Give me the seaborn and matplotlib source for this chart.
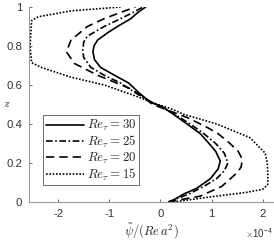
import matplotlib
matplotlib.use("Agg")
import matplotlib.pyplot as plt
import matplotlib.ticker as mticker
import seaborn as sns
import pandas as pd

# stream function profiles, psi given in units of 1e-4
SCALE = 1e-4

z_30 = [0.0, 0.04, 0.07, 0.12, 0.17, 0.21, 0.26, 0.30, 0.35, 0.40, 0.45, 0.49, 0.51,
        0.56, 0.61, 0.65, 0.69, 0.73, 0.77, 0.80, 0.83, 0.87, 0.90, 0.94, 0.97, 1.0]
psi_30 = [0.19, 0.45, 0.71, 0.98, 1.13, 1.17, 1.08, 0.95, 0.78, 0.52, 0.25, 0.03, -0.19,
          -0.42, -0.62, -0.90, -1.17, -1.29, -1.32, -1.30, -1.23, -1.02, -0.84, -0.58, -0.45, -0.29]

z_25 = [0.0, 0.04, 0.08, 0.12, 0.16, 0.20, 0.25, 0.30, 0.35, 0.40, 0.45, 0.49, 0.53,
        0.57, 0.61, 0.65, 0.69, 0.74, 0.78, 0.82, 0.85, 0.90, 0.94, 0.97, 1.0]
psi_25 = [0.15, 0.55, 0.85, 1.10, 1.25, 1.32, 1.25, 1.08, 0.85, 0.58, 0.28, 0.0, -0.30,
          -0.55, -0.78, -1.10, -1.36, -1.50, -1.52, -1.50, -1.43, -1.10, -0.78, -0.55, -0.34]

z_20 = [0.0, 0.03, 0.08, 0.15, 0.18, 0.22, 0.26, 0.30, 0.35, 0.38, 0.43, 0.47, 0.50,
        0.54, 0.58, 0.65, 0.71, 0.77, 0.83, 0.90, 0.94, 0.97, 1.0]
psi_20 = [0.15, 0.78, 1.20, 1.50, 1.58, 1.60, 1.52, 1.36, 1.13, 0.93, 0.55, 0.15, -0.15,
          -0.35, -0.58, -1.23, -1.68, -1.84, -1.75, -1.43, -1.10, -0.80, -0.49]

z_15 = [0.0, 0.03, 0.05, 0.065, 0.09, 0.15, 0.20, 0.25, 0.29, 0.33, 0.40, 0.45, 0.48,
        0.50, 0.54, 0.60, 0.64, 0.69, 0.715, 0.80, 0.93, 0.95, 0.98, 1.0]
psi_15 = [0.25, 1.10, 1.70, 2.00, 2.10, 2.10, 2.09, 2.05, 1.90, 1.75, 1.10, 0.45, 0.19,
          -0.05, -0.45, -1.10, -1.75, -2.33, -2.52, -2.55, -2.52, -2.39, -1.75, -0.78]

labels = [r"$Re_\tau = 30$", r"$Re_\tau = 25$", r"$Re_\tau = 20$", r"$Re_\tau = 15$"]
styles = ["-", (0, (4, 1.5, 1, 1.5)), (0, (5, 3)), (0, (1, 1))]

sns.set_style("ticks")
plt.rcParams["font.family"] = ["Liberation Sans", "DejaVu Sans"]
plt.rcParams["mathtext.fontset"] = "cm"

fig = plt.figure(figsize=(2.74, 2.41), dpi=100)
ax = fig.add_axes([0.106, 0.162, 0.89, 0.809])

profiles = [(z_30, psi_30), (z_25, psi_25), (z_20, psi_20), (z_15, psi_15)]
for (z, psi), lab, ls in zip(profiles, labels, styles):
    df = pd.DataFrame({"psi": [p * SCALE for p in psi], "z": z})
    sns.lineplot(data=df, x="psi", y="z", orient="y", sort=False, estimator=None,
                 color="black", linewidth=1.2, linestyle=ls, label=lab, ax=ax)

ax.set_xlim(-2.57e-4, 2.2e-4)
ax.set_ylim(0, 1)
ax.set_xticks([-2e-4, -1e-4, 0, 1e-4, 2e-4])
ax.set_yticks([0, 0.2, 0.4, 0.6, 0.8, 1])
ax.set_yticklabels(["0", "0.2", "0.4", "0.6", "0.8", "1"])
ax.xaxis.set_major_formatter(mticker.FuncFormatter(lambda v, pos: f"{v / SCALE:g}"))
ax.text(1.0, -0.16, r"$\times\mathregular{10^{-4}}$", transform=ax.transAxes,
        ha="right", va="center", fontsize=7, color="#333333")

ax.set_xlabel(r"$\tilde{\psi}/(Re\,a^2)$", fontsize=9)
ax.xaxis.set_label_coords(0.5, -0.1)
ax.set_ylabel(r"$z$", fontsize=8.5, rotation=0, va="center", ha="center")
ax.yaxis.set_label_coords(-0.092, 0.5)

for side in ["top", "right"]:
    ax.spines[side].set_visible(False)
for side in ["left", "bottom"]:
    ax.spines[side].set_color("#999999")
    ax.spines[side].set_linewidth(0.8)
ax.tick_params(direction="in", length=2.5, width=0.6, color="#555555",
               labelsize=8.2, labelcolor="#333333")
ax.tick_params(axis="y", pad=5)
ax.tick_params(axis="x", pad=5)

leg = ax.legend(loc="lower left", bbox_to_anchor=(0.057, 0.085), borderaxespad=0,
                fontsize=9.3, handlelength=3.0, handletextpad=0.2, labelspacing=0.05,
                borderpad=0.2, fancybox=False, framealpha=1)
leg.get_frame().set_edgecolor("#555555")
leg.get_frame().set_linewidth(0.6)

fig.savefig("out.png", dpi=100)
